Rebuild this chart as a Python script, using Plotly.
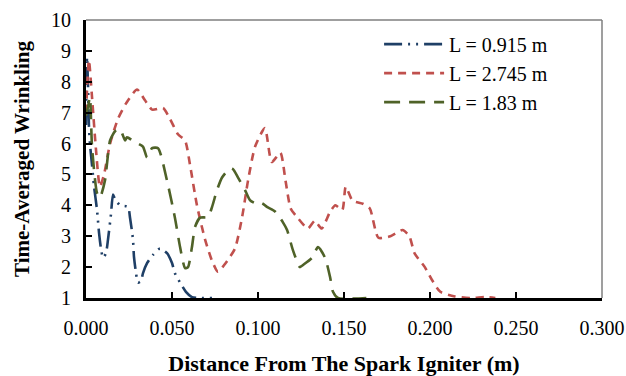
import plotly.graph_objects as go

# Distance from the spark igniter (m) and time-averaged wrinkling per tube length
x_0915 = [0.000, 0.0006, 0.0012, 0.0017, 0.0023, 0.0035, 0.0047, 0.0064, 0.0076, 0.0087,
          0.0099, 0.0116, 0.0128, 0.0145, 0.0157, 0.0169, 0.0198, 0.0244, 0.0256, 0.0273,
          0.0279, 0.0291, 0.0302, 0.0320, 0.0331, 0.0355, 0.0390, 0.0430, 0.0471, 0.0500,
          0.0517, 0.0547, 0.0581, 0.0616, 0.0651, 0.0733]
w_0915 = [6.6, 8.8, 7.8, 6.6, 6.0, 5.3, 4.6, 3.85, 3.1, 2.6,
          2.3, 2.45, 2.9, 3.7, 4.35, 4.2, 4.0, 3.95, 3.6, 2.9,
          2.33, 1.8, 1.5, 1.55, 1.8, 2.13, 2.4, 2.6, 2.45, 2.13,
          1.8, 1.5, 1.2, 1.03, 1.0, 1.0]

x_2745 = [0.000, 0.0017, 0.0035, 0.0058, 0.0081, 0.0105, 0.0140, 0.0186, 0.0233, 0.0297,
          0.0343, 0.0384, 0.0448, 0.0488, 0.0535, 0.0576, 0.0605, 0.0645, 0.0692, 0.0733,
          0.0767, 0.0808, 0.0866, 0.0907, 0.0942, 0.0983, 0.1040, 0.1080, 0.1130, 0.1160,
          0.1190, 0.1230, 0.1290, 0.1330, 0.1370, 0.1420, 0.1450, 0.1490, 0.1510, 0.1550,
          0.1610, 0.1650, 0.1700, 0.1770, 0.1840, 0.1880, 0.1910, 0.1970, 0.2010, 0.2060,
          0.2145, 0.2240, 0.2320, 0.2380]
w_2745 = [7.0, 8.7, 7.5, 5.8, 4.6, 5.0, 6.0, 6.8, 7.3, 7.75,
          7.4, 7.1, 7.15, 6.8, 6.3, 6.1, 5.3, 4.0, 2.9, 2.2,
          1.85, 2.1, 2.6, 3.6, 4.8, 5.9, 6.5, 5.4, 5.7, 4.8,
          3.9, 3.6, 3.25, 3.5, 3.25, 3.8, 4.0, 3.85, 4.6, 4.15,
          4.05, 3.9, 2.95, 3.0, 3.2, 3.0, 2.45, 2.0, 1.6, 1.2,
          1.05, 1.0, 1.03, 1.0]

x_183 = [0.000, 0.0012, 0.0023, 0.0035, 0.0064, 0.0081, 0.0110, 0.0140, 0.0169, 0.0198,
         0.0227, 0.0238, 0.0285, 0.0331, 0.0355, 0.0384, 0.0419, 0.0471, 0.0517, 0.0547,
         0.0576, 0.0593, 0.0616, 0.0634, 0.0663, 0.0709, 0.0733, 0.0762, 0.0791, 0.0837,
         0.0855, 0.0884, 0.0924, 0.0953, 0.0983, 0.1023, 0.1052, 0.1099, 0.1145, 0.1169,
         0.1203, 0.1244, 0.1262, 0.1314, 0.1349, 0.1390, 0.1419, 0.1436, 0.1465, 0.1630]
w_183 = [6.9, 7.2, 7.5, 5.9, 4.4, 4.25, 4.8, 6.1, 6.4, 6.47,
         6.1, 6.2, 6.05, 5.9, 5.55, 5.85, 5.85, 4.8, 3.6, 2.65,
         1.97, 2.0, 2.65, 3.3, 3.6, 3.62, 3.95, 4.5, 4.9, 5.2,
         5.17, 4.9, 4.5, 4.17, 4.07, 4.07, 3.95, 3.8, 3.45, 3.2,
         2.55, 2.0, 2.07, 2.3, 2.65, 2.3, 1.68, 1.2, 1.0, 1.0]

series = [
    ("L = 0.915 m", x_0915, w_0915, "#1F3F66", "18px,6px,2px,6px,2px,6px"),
    ("L = 2.745 m", x_2745, w_2745, "#C0504D", "8px,6px"),
    ("L = 1.83 m", x_183, w_183, "#4F6228", "16px,9px"),
]

FONT = "Liberation Serif, Times New Roman, serif"

fig = go.Figure()
for name, xs, ys, color, dash in series:
    fig.add_trace(go.Scatter(
        x=xs, y=ys, name=name, mode="lines",
        line=dict(color=color, width=2.6, dash=dash, shape="spline", smoothing=0.6),
    ))

fig.update_layout(
    width=626, height=376,
    margin=dict(l=86, r=24, t=20, b=78),
    paper_bgcolor="white", plot_bgcolor="white",
    font=dict(family=FONT, size=20, color="black"),
    showlegend=True,
    legend=dict(x=0.568, y=0.809, xanchor="left", yanchor="middle",
                bgcolor="rgba(0,0,0,0)", font=dict(family=FONT, size=20),
                tracegroupgap=0, itemwidth=60),
    xaxis=dict(
        range=[0, 0.3], dtick=0.05, tickformat=".3f", automargin=False,
        showgrid=False, zeroline=False,
        showline=True, linecolor="black", linewidth=3,
        ticks="inside", ticklen=6, tickwidth=2, tickcolor="black",
        tickfont=dict(family=FONT, size=20), ticklabelstandoff=10,
        title=dict(text="<b>Distance From The Spark Igniter (m)</b>",
                   font=dict(family=FONT, size=22), standoff=28),
    ),
    yaxis=dict(
        range=[1, 10], dtick=1, automargin=False,
        showgrid=False, zeroline=False,
        showline=True, linecolor="black", linewidth=3,
        ticks="inside", ticklen=6, tickwidth=2, tickcolor="black",
        tickfont=dict(family=FONT, size=20), ticklabelstandoff=8,
        title=dict(text="<b>Time-Averaged Wrinkling</b>",
                   font=dict(family=FONT, size=21), standoff=16),
    ),
    shapes=[
        dict(type="line", xref="paper", yref="paper", x0=0, x1=1, y0=1, y1=1,
             line=dict(color="#7F7F7F", width=1.5)),
        dict(type="line", xref="paper", yref="paper", x0=1, x1=1, y0=0, y1=1,
             line=dict(color="#7F7F7F", width=1.5)),
    ],
)

fig.write_html("out.html")
